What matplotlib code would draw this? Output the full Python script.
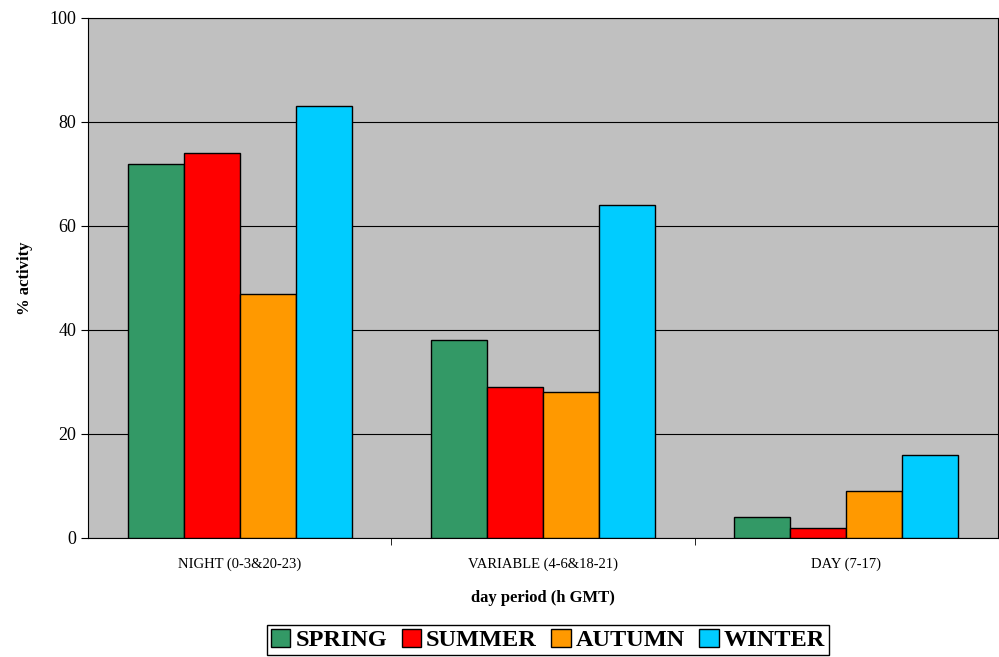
import matplotlib.pyplot as plt
import numpy as np

plt.rcParams['font.family'] = ['Liberation Serif', 'DejaVu Serif']

periods = ["NIGHT (0-3&20-23)", "VARIABLE (4-6&18-21)", "DAY (7-17)"]
seasons = ["SPRING", "SUMMER", "AUTUMN", "WINTER"]
spring = [72, 38, 4]
summer = [74, 29, 2]
autumn = [47, 28, 9]
winter = [83, 64, 16]
colors = ["#339966", "#FF0000", "#FF9900", "#00CCFF"]

fig = plt.figure(figsize=(9.99, 6.57), dpi=100)
ax = fig.add_axes([88/999, 1-538/657, 910/999, 520/657])
ax.set_facecolor("#C0C0C0")

x = np.arange(len(periods))
w = 56/303.5
for i, (vals, c, name) in enumerate(zip([spring, summer, autumn, winter], colors, seasons)):
    ax.bar(x + (i - 1.5)*w, vals, w, color=c, edgecolor="black", linewidth=1, label=name, zorder=3)

ax.set_xlim(-0.5, 2.5)
ax.set_ylim(0, 100)
ax.set_yticks([0, 20, 40, 60, 80, 100])
ax.grid(axis='y', color='black', linewidth=0.8, zorder=0)
ax.set_xticks(x)
ax.set_xticklabels(periods, fontsize=10.5)
ax.tick_params(axis='x', length=0, pad=14)
ax.set_xticks([0.5, 1.5], minor=True)
ax.tick_params(axis='x', which='minor', length=5, direction='out')
ax.tick_params(axis='y', labelsize=13, length=5, direction='out')
for s in ax.spines.values():
    s.set_linewidth(0.8)

ax.set_xlabel("day period (h GMT)", fontsize=12, fontweight='bold', labelpad=14)
ax.set_ylabel("% activity", fontsize=12, fontweight='bold', labelpad=12)

leg = ax.legend(loc='upper center', bbox_to_anchor=(548/999, 1-625/657), bbox_transform=fig.transFigure,
                ncol=4, prop={'weight': 'bold', 'size': 17.5}, frameon=True, fancybox=False,
                handlelength=0.8, handleheight=0.8, handletextpad=0.2, columnspacing=0.6,
                borderpad=0.15, borderaxespad=0, edgecolor='black', framealpha=1)
leg.get_frame().set_linewidth(1)

fig.savefig("out.png", dpi=100)
